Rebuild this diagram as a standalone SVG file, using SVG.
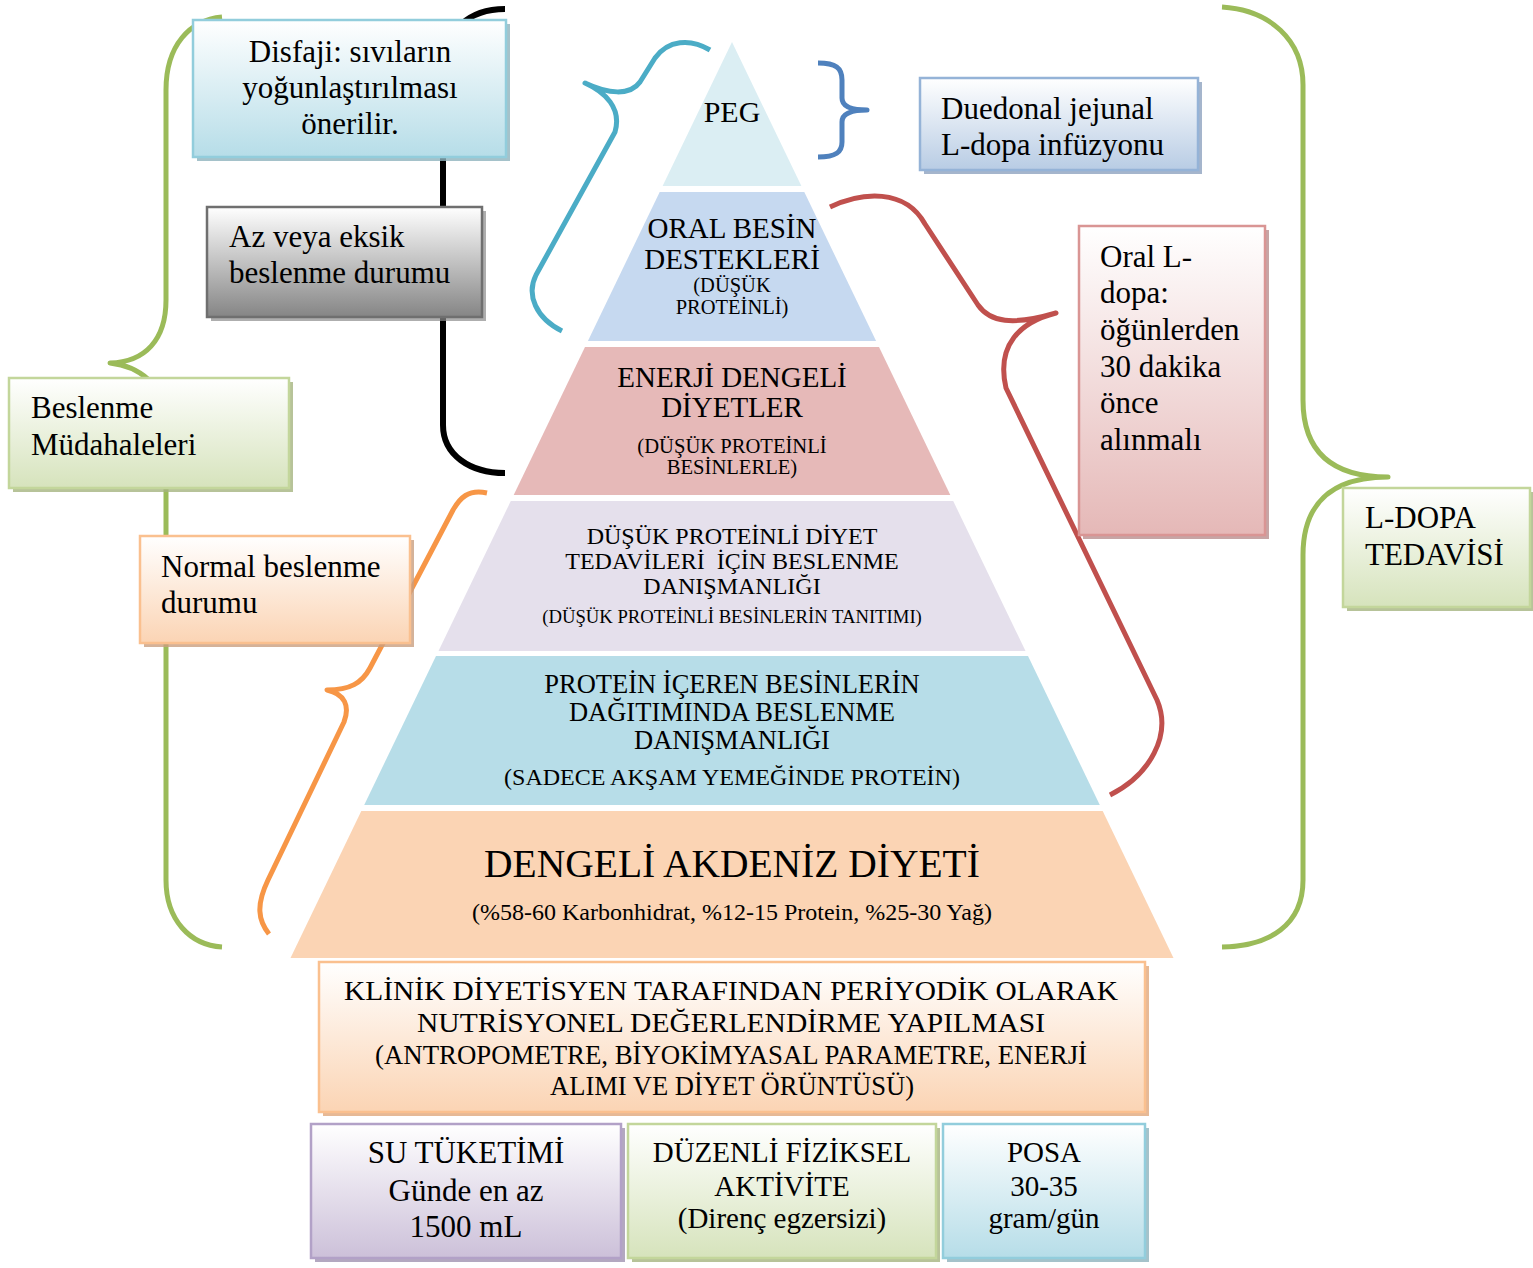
<svg xmlns="http://www.w3.org/2000/svg" width="1533" height="1268" viewBox="0 0 1533 1268">
<style>
.t{font-family:"Liberation Serif","Times New Roman",serif;fill:#000}
.m{text-anchor:middle}
.b{font-size:31px}
.br{fill:none;stroke-linecap:butt;stroke-linejoin:round}
.box{stroke-width:2.5}
</style>
<defs>
<linearGradient id="gBlue" x1="0" y1="0" x2="0" y2="1"><stop offset="0" stop-color="#ffffff"/><stop offset="1" stop-color="#b6dde8"/></linearGradient>
<linearGradient id="gGray" x1="0" y1="0" x2="0" y2="1"><stop offset="0" stop-color="#ffffff"/><stop offset="1" stop-color="#858585"/></linearGradient>
<linearGradient id="gGreen" x1="0" y1="0" x2="0" y2="1"><stop offset="0" stop-color="#ffffff"/><stop offset="1" stop-color="#d6e3bc"/></linearGradient>
<linearGradient id="gOrange" x1="0" y1="0" x2="0" y2="1"><stop offset="0" stop-color="#ffffff"/><stop offset="1" stop-color="#fbd4b4"/></linearGradient>
<linearGradient id="gSteel" x1="0" y1="0" x2="0" y2="1"><stop offset="0" stop-color="#ffffff"/><stop offset="1" stop-color="#b8cce4"/></linearGradient>
<linearGradient id="gRed" x1="0" y1="0" x2="0" y2="1"><stop offset="0" stop-color="#ffffff"/><stop offset="1" stop-color="#e5b8b7"/></linearGradient>
<linearGradient id="gPurple" x1="0" y1="0" x2="0" y2="1"><stop offset="0" stop-color="#ffffff"/><stop offset="1" stop-color="#ccc0d9"/></linearGradient>
</defs>
<rect width="1533" height="1268" fill="#ffffff"/>

<g id="pyramid">
<g id="layer-peg">
<polygon points="732,42 801.4,186 662.6,186" fill="#dbeef3"/>
<text class="t m" x="732" y="122" font-size="30">PEG</text>
</g>
<g id="layer-oral">
<polygon points="659.7,192 804.3,192 876.1,341 587.9,341" fill="#c6d9f0"/>
<text class="t m" x="732" y="238" font-size="29">ORAL BESİN</text>
<text class="t m" x="732" y="269" font-size="29">DESTEKLERİ</text>
<text class="t m" x="732" y="292" font-size="20.5">(DÜŞÜK</text>
<text class="t m" x="732" y="314" font-size="20.5">PROTEİNLİ)</text>
</g>
<g id="layer-enerji">
<polygon points="585,347 879,347 950.3,495 513.7,495" fill="#e6b9b8"/>
<text class="t m" x="732" y="387" font-size="29">ENERJİ DENGELİ</text>
<text class="t m" x="732" y="417" font-size="29">DİYETLER</text>
<text class="t m" x="732" y="453" font-size="20.6">(DÜŞÜK PROTEİNLİ</text>
<text class="t m" x="732" y="474" font-size="20.6">BESİNLERLE)</text>
</g>
<g id="layer-dusuk">
<polygon points="510.8,501 953.2,501 1025.5,651 438.5,651" fill="#e5e0ec"/>
<text class="t m" x="732" y="544" font-size="24">DÜŞÜK PROTEİNLİ DİYET</text>
<text class="t m" x="732" y="569" font-size="24" xml:space="preserve">TEDAVİLERİ  İÇİN BESLENME</text>
<text class="t m" x="732" y="594" font-size="24">DANIŞMANLIĞI</text>
<text class="t m" x="732" y="623" font-size="18.7">(DÜŞÜK PROTEİNLİ BESİNLERİN TANITIMI)</text>
</g>
<g id="layer-protein">
<polygon points="436,656 1028,656 1099.8,805 364.2,805" fill="#b7dde8"/>
<text class="t m" x="732" y="693" font-size="26.5">PROTEİN İÇEREN BESİNLERİN</text>
<text class="t m" x="732" y="721" font-size="26.5">DAĞITIMINDA BESLENME</text>
<text class="t m" x="732" y="749" font-size="26.5">DANIŞMANLIĞI</text>
<text class="t m" x="732" y="785" font-size="24">(SADECE AKŞAM YEMEĞİNDE PROTEİN)</text>
</g>
<g id="layer-akdeniz">
<polygon points="361.3,811 1102.7,811 1173.5,958 290.5,958" fill="#fbd4b4"/>
<text class="t m" x="732" y="877" font-size="39.5">DENGELİ AKDENİZ DİYETİ</text>
<text class="t m" x="732" y="920" font-size="24">(%58-60 Karbonhidrat, %12-15 Protein, %25-30 Yağ)</text>
</g>
</g>

<g id="connectors">
<path class="br" stroke="#9bbb59" stroke-width="5" d="M222,17 C190,20 166,45 166,90 L166,300 C166,340 145,362 110,363 C138,366 166,385 166,420 L166,880 C166,920 190,945 222,947"/>
<path class="br" stroke="#9bbb59" stroke-width="5" d="M1222,7 C1270,10 1303,40 1303,85 L1303,400 C1303,450 1330,477 1388,477 C1330,477 1303,505 1303,555 L1303,880 C1303,925 1270,946 1222,947"/>
<path class="br" stroke="#000000" stroke-width="6" d="M505,9 C470,9 443,30 443,70 L443,425 C443,455 470,473 505,473"/>
<path class="br" stroke="#4bacc6" stroke-width="5" d="M710,50 C690,38 668,40 655,58 L640,82 C630,96 608,94 585,83 C605,92 622,108 615,132 L536,275 C526,295 536,318 562,331"/>
<path class="br" stroke="#4f81bd" stroke-width="5" d="M818,63 C836,63 842,68 842,80 L842,98 C842,106 850,110 867,110 C850,110 842,114 842,122 L842,142 C842,152 836,157 818,157"/>
<path class="br" stroke="#c0504d" stroke-width="5" d="M830,207 C862,192 905,188 925,224 L978,305 C990,322 1012,326 1056,313 C1020,322 996,345 1006,388 L1157,700 C1172,735 1150,775 1110,795"/>
<path class="br" stroke="#f79646" stroke-width="5" d="M487,493 C468,489 460,498 453,510 L370,668 C362,683 350,690 327,690 C345,694 350,706 344,722 L268,880 C256,905 258,920 269,934"/>
</g>

<g id="node-disfaji">
<rect x="197" y="24" width="313" height="137" fill="#8fb3bd" opacity="0.8"/>
<rect class="box" x="193" y="20" width="313" height="137" fill="url(#gBlue)" stroke="#92cddc"/>
<text class="t m b" x="350" y="62">Disfaji: sıvıların</text>
<text class="t m b" x="350" y="98">yoğunlaştırılması</text>
<text class="t m b" x="350" y="134">önerilir.</text>
</g>

<g id="node-az">
<rect x="211" y="211" width="275" height="110" fill="#8c8c8c" opacity="0.7"/>
<rect class="box" x="207" y="207" width="275" height="110" fill="url(#gGray)" stroke="#6f6f6f"/>
<text class="t b" x="229" y="247">Az veya eksik</text>
<text class="t b" x="229" y="283">beslenme durumu</text>
</g>

<g id="node-beslenme">
<rect x="13" y="382" width="280" height="110" fill="#a5b47f" opacity="0.8"/>
<rect class="box" x="9" y="378" width="280" height="110" fill="url(#gGreen)" stroke="#c3d69b"/>
<text class="t b" x="31" y="418">Beslenme</text>
<text class="t b" x="31" y="455">Müdahaleleri</text>
</g>

<g id="node-normal">
<rect x="144" y="540" width="270" height="107" fill="#c99f80" opacity="0.8"/>
<rect class="box" x="140" y="536" width="270" height="107" fill="url(#gOrange)" stroke="#fac08f"/>
<text class="t b" x="161" y="577">Normal beslenme</text>
<text class="t b" x="161" y="613">durumu</text>
</g>

<g id="node-duedonal">
<rect x="924" y="82" width="278" height="92" fill="#8ea3bf" opacity="0.8"/>
<rect class="box" x="920" y="78" width="278" height="92" fill="url(#gSteel)" stroke="#95b3d7"/>
<text class="t b" x="941" y="119">Duedonal jejunal</text>
<text class="t b" x="941" y="155">L-dopa infüzyonu</text>
</g>

<g id="node-oral-ldopa">
<rect x="1083" y="230" width="186" height="309" fill="#b98f8e" opacity="0.8"/>
<rect class="box" x="1079" y="226" width="186" height="309" fill="url(#gRed)" stroke="#d99594"/>
<text class="t b" x="1100" y="267">Oral L-</text>
<text class="t b" x="1100" y="303">dopa:</text>
<text class="t b" x="1100" y="340">öğünlerden</text>
<text class="t b" x="1100" y="377">30 dakika</text>
<text class="t b" x="1100" y="413">önce</text>
<text class="t b" x="1100" y="450">alınmalı</text>
</g>

<g id="node-ldopa">
<rect x="1347" y="492" width="186" height="119" fill="#a5b47f" opacity="0.8"/>
<rect class="box" x="1343" y="488" width="187" height="119" fill="url(#gGreen)" stroke="#c3d69b"/>
<text class="t b" x="1365" y="528">L-DOPA</text>
<text class="t b" x="1365" y="565">TEDAVİSİ</text>
</g>

<g id="node-klinik">
<rect x="323" y="966" width="826" height="150" fill="#e0a77c" opacity="0.8"/>
<rect class="box" x="319" y="962" width="826" height="150" fill="url(#gOrange)" stroke="#fac08f"/>
<text class="t m" x="731" y="1000" font-size="28" textLength="774" lengthAdjust="spacingAndGlyphs">KLİNİK DİYETİSYEN TARAFINDAN PERİYODİK OLARAK</text>
<text class="t m" x="731" y="1032" font-size="28" textLength="628" lengthAdjust="spacingAndGlyphs">NUTRİSYONEL DEĞERLENDİRME YAPILMASI</text>
<text class="t m" x="731" y="1064" font-size="28" textLength="712" lengthAdjust="spacingAndGlyphs">(ANTROPOMETRE, BİYOKİMYASAL PARAMETRE, ENERJİ</text>
<text class="t m" x="732" y="1095" font-size="28" textLength="364" lengthAdjust="spacingAndGlyphs">ALIMI VE DİYET ÖRÜNTÜSÜ)</text>
</g>

<g id="node-su">
<rect x="315" y="1128" width="310" height="134" fill="#a092b0" opacity="0.8"/>
<rect class="box" x="311" y="1124" width="310" height="134" fill="url(#gPurple)" stroke="#b2a1c7"/>
<text class="t m" x="466" y="1163" font-size="31">SU TÜKETİMİ</text>
<text class="t m" x="466" y="1201" font-size="31">Günde en az</text>
<text class="t m" x="466" y="1237" font-size="31">1500 mL</text>
</g>

<g id="node-fiziksel">
<rect x="632" y="1128" width="308" height="134" fill="#a5b47f" opacity="0.8"/>
<rect class="box" x="628" y="1124" width="308" height="134" fill="url(#gGreen)" stroke="#c3d69b"/>
<text class="t m" x="782" y="1162" font-size="29">DÜZENLİ FİZİKSEL</text>
<text class="t m" x="782" y="1196" font-size="29">AKTİVİTE</text>
<text class="t m" x="782" y="1228" font-size="29">(Direnç egzersizi)</text>
</g>

<g id="node-posa">
<rect x="947" y="1128" width="202" height="134" fill="#8fb3bd" opacity="0.8"/>
<rect class="box" x="943" y="1124" width="202" height="134" fill="url(#gBlue)" stroke="#92cddc"/>
<text class="t m" x="1044" y="1162" font-size="29">POSA</text>
<text class="t m" x="1044" y="1196" font-size="29">30-35</text>
<text class="t m" x="1044" y="1228" font-size="29">gram/gün</text>
</g>
</svg>
